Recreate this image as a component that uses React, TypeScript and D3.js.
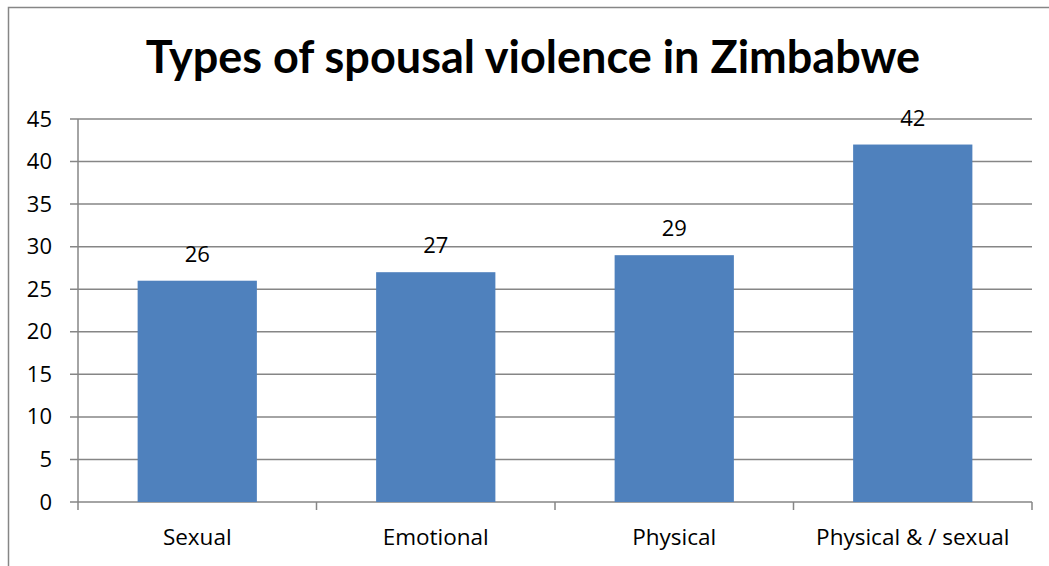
import React from "react";
import * as d3 from "d3";

const categories = ["Sexual", "Emotional", "Physical", "Physical & / sexual"];
const values = [26, 27, 29, 42];
const yTicks = [0, 5, 10, 15, 20, 25, 30, 35, 40, 45];
const title = "Types of spousal violence in Zimbabwe";

const W = 1049;
const H = 566;
const FONT = "'Open Sans', sans-serif";
const TITLE_FONT = "Lato, 'Open Sans', sans-serif";

export default function App() {
  const left = 78;
  const right = 1032;
  const top = 119;
  const bottom = 502;
  const x = d3.scaleBand<string>().domain(categories).range([left, right]).paddingInner(0.5).paddingOuter(0.25);
  const y = d3.scaleLinear().domain([0, 45]).range([bottom, top]);
  const step = x.step();
  const grid = "#868686";

  return (
    <svg
      width={W}
      height={H}
      style={{ position: "absolute", left: 0, top: 0, background: "#fff" }}
      fontFamily={FONT}
    >
      <rect x={8.5} y={7.5} width={W + 10} height={H + 10} fill="#fff" stroke="#868686" strokeWidth={1.5} />
      <text x={533} y={73} textAnchor="middle" fontSize={45} fontWeight="bold" fill="#000" fontFamily={TITLE_FONT}>
        {title}
      </text>
      {yTicks.map((t) => (
        <g key={t}>
          <line x1={left - 8} x2={right} y1={y(t)} y2={y(t)} stroke={grid} strokeWidth={1.5} />
          <text x={52} y={y(t) + 7.5} textAnchor="end" fontSize={22} fill="#000">
            {t}
          </text>
        </g>
      ))}
      <line x1={left} x2={left} y1={top} y2={bottom + 8} stroke={grid} strokeWidth={1.5} />
      {categories.map((c, i) => (
        <line
          key={"t" + i}
          x1={left + step * (i + 1)}
          x2={left + step * (i + 1)}
          y1={bottom}
          y2={bottom + 8}
          stroke={grid}
          strokeWidth={1.5}
        />
      ))}
      {categories.map((c, i) => (
        <g key={c}>
          <rect
            x={x(c)}
            y={y(values[i])}
            width={x.bandwidth()}
            height={bottom - y(values[i])}
            fill="#4F81BD"
          />
          <text
            x={(x(c) as number) + x.bandwidth() / 2}
            y={y(values[i]) - 19}
            textAnchor="middle"
            fontSize={22}
            fill="#000"
          >
            {values[i]}
          </text>
          <text
            x={(x(c) as number) + x.bandwidth() / 2}
            y={545}
            textAnchor="middle"
            fontSize={22.5}
            fill="#000"
          >
            {c}
          </text>
        </g>
      ))}
    </svg>
  );
}
